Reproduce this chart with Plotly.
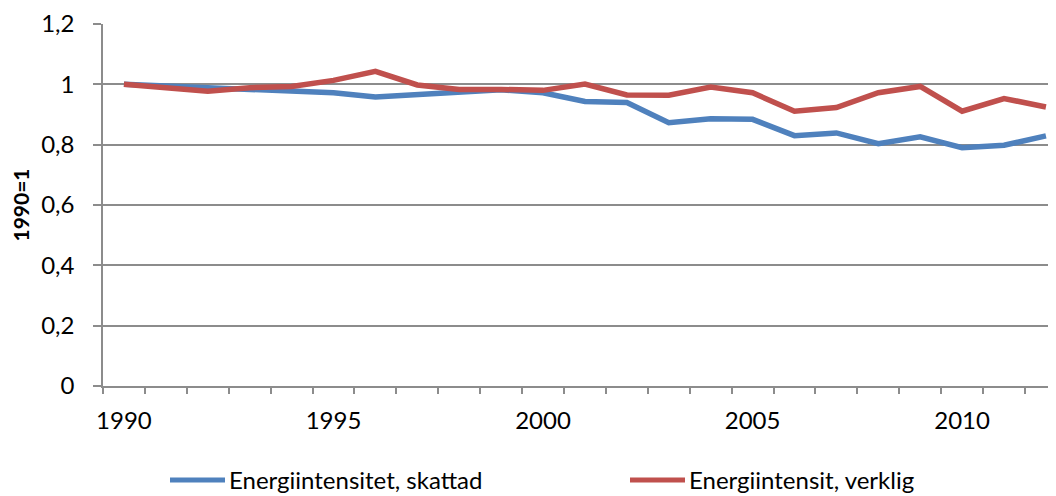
import plotly.graph_objects as go

years = list(range(1990, 2013))
skattad = [1.000, 0.995, 0.991, 0.986, 0.980, 0.972, 0.958, 0.966, 0.977, 0.982, 0.972,
           0.943, 0.940, 0.873, 0.886, 0.884, 0.830, 0.839, 0.803, 0.826, 0.790, 0.798, 0.829]
verklig = [1.000, 0.988, 0.977, 0.989, 0.993, 1.013, 1.043, 0.998, 0.983, 0.983, 0.980,
           1.001, 0.965, 0.964, 0.991, 0.972, 0.911, 0.923, 0.972, 0.993, 0.911, 0.953, 0.925]
name_skattad = "Energiintensitet, skattad"
name_verklig = "Energiintensit, verklig"
y_ticks = [0, 0.2, 0.4, 0.6, 0.8, 1.0, 1.2]
y_labels = ["0", "0,2", "0,4", "0,6", "0,8", "1", "1,2"]
x_ticks = [1990, 1995, 2000, 2005, 2010]

FONT = "Lato, 'Open Sans', sans-serif"
GRID = "#8c8c8c"
BLUE = "#4F81BD"
RED = "#C0504D"

# the page body has an 8px margin, so the figure is drawn 8px in from the window edge
OFF = 8
W, H = 1056 - OFF, 496 - OFF
ML, MT = 103 - OFF, 24 - OFF
MR, MB = 0, H - (386 - OFF)
PW, PH = W - ML - MR, H - MT - MB


def px_x(px):
    return (px - OFF - ML) / PW


def px_y(py):
    return (H - MB - (py - OFF)) / PH


fig = go.Figure()
fig.add_trace(go.Scatter(x=years, y=skattad, mode="lines", name=name_skattad,
                         line=dict(color=BLUE, width=5.5)))
fig.add_trace(go.Scatter(x=years, y=verklig, mode="lines", name=name_verklig,
                         line=dict(color=RED, width=5.5)))

# manual legend (Excel-style long line samples)
legend_items = [(name_skattad, BLUE, 170), (name_verklig, RED, 630)]
ly = px_y(480)
for name, col, x0 in legend_items:
    fig.add_shape(type="line", xref="paper", yref="paper",
                  x0=px_x(x0), x1=px_x(x0 + 55), y0=ly, y1=ly,
                  line=dict(color=col, width=5))
    fig.add_annotation(xref="paper", yref="paper", x=px_x(x0 + 57), y=ly,
                       text=name, showarrow=False, xanchor="left", yanchor="middle",
                       font=dict(size=24, color="black"))

fig.update_layout(
    width=W, height=H,
    margin=dict(l=ML, r=MR, t=MT, b=MB, autoexpand=False),
    paper_bgcolor="white", plot_bgcolor="white",
    font=dict(family=FONT, size=24, color="black"),
    showlegend=False,
)
fig.update_xaxes(
    range=[1989.5, 2012.24], tickvals=x_ticks, ticktext=[str(v) for v in x_ticks],
    ticks="", showgrid=False, zeroline=False,
    showline=True, linecolor=GRID, linewidth=1.5,
    ticklabelstandoff=12,
    minor=dict(tick0=1989.5, dtick=1, ticks="outside", ticklen=6,
               tickcolor=GRID, tickwidth=1.5, showgrid=False),
)
fig.update_yaxes(
    range=[0, 1.2], tickvals=y_ticks, ticktext=y_labels,
    ticks="outside", ticklen=8, tickcolor=GRID, tickwidth=1.5,
    showgrid=True, gridcolor=GRID, gridwidth=1.5, zeroline=False,
    showline=True, linecolor=GRID, linewidth=1.5,
    ticklabelstandoff=14,
    title=dict(text="<b>1990=1</b>", font=dict(size=21), standoff=12),
)

fig.write_html("out.html")
